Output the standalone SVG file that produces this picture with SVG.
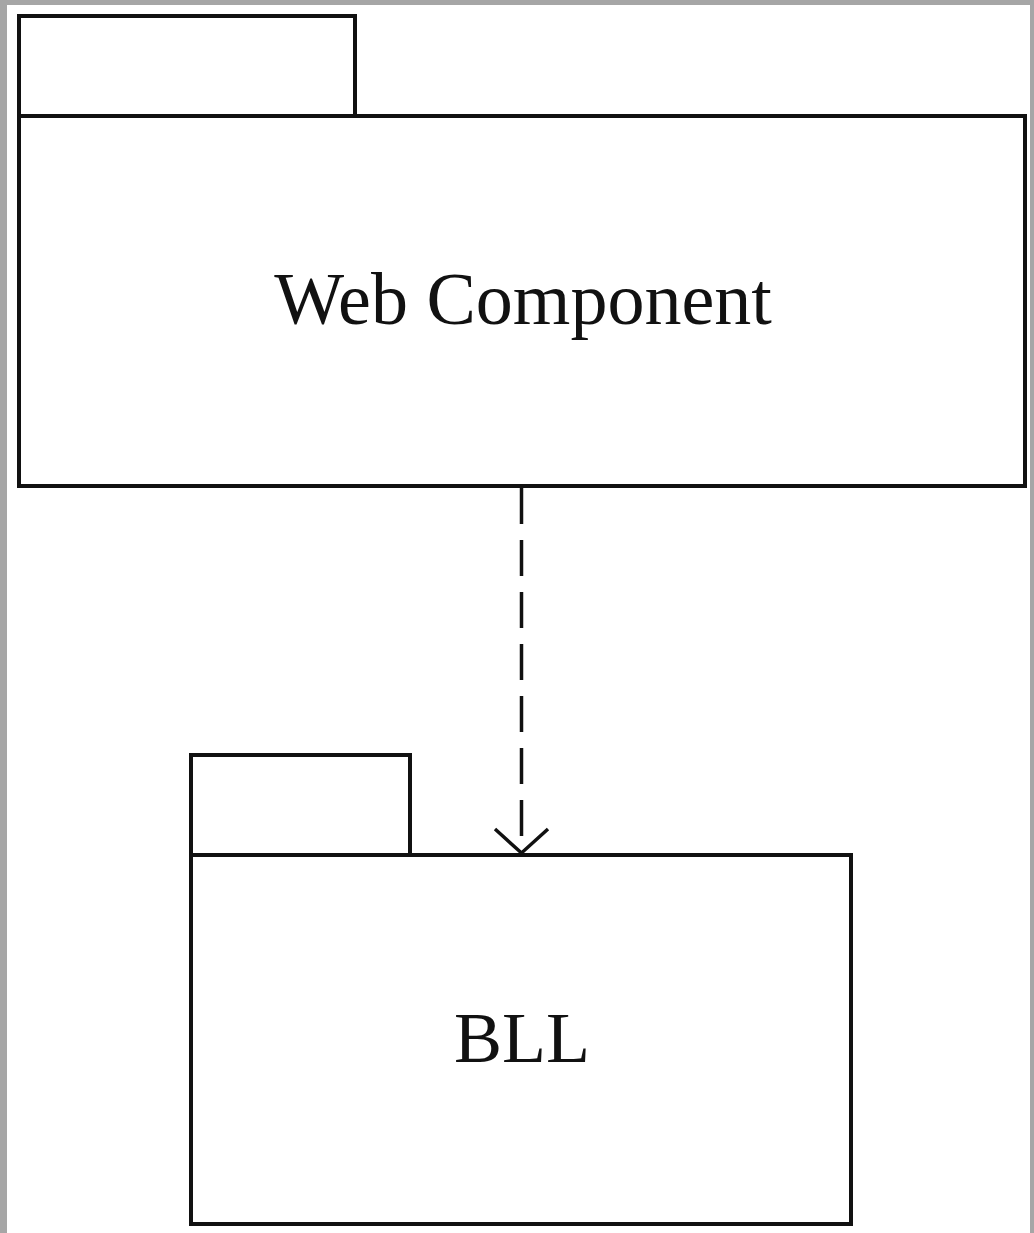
<svg xmlns="http://www.w3.org/2000/svg" width="1034" height="1233" viewBox="0 0 1034 1233">
  <style>
    .pkg { fill: #ffffff; stroke: #111111; stroke-width: 4; stroke-linejoin: miter; }
    .lbl { font-family: "Liberation Serif", "Times New Roman", serif; fill: #111111; text-anchor: middle; }
    .dep { stroke: #111111; stroke-width: 3.5; fill: none; }
  </style>
  <rect x="0" y="0" width="1034" height="1233" fill="#a6a6a6"/>
  <rect x="7" y="5" width="1023" height="1228" fill="#ffffff"/>
  <g id="web-component">
    <rect class="pkg" x="19" y="16" width="336" height="100"/>
    <rect class="pkg" x="19" y="116" width="1006" height="370"/>
    <text class="lbl" x="523" y="324" font-size="74">Web Component</text>
  </g>
  <g id="bll">
    <rect class="pkg" x="191" y="755" width="219" height="100"/>
    <rect class="pkg" x="191" y="855" width="660" height="369"/>
    <text class="lbl" x="522" y="1062" font-size="72">BLL</text>
  </g>
  <g id="connectors">
    <line class="dep" x1="521.5" y1="488" x2="521.5" y2="852" stroke-dasharray="36 16"/>
    <polyline class="dep" points="495,829 521.5,853 548,829"/>
  </g>
</svg>
